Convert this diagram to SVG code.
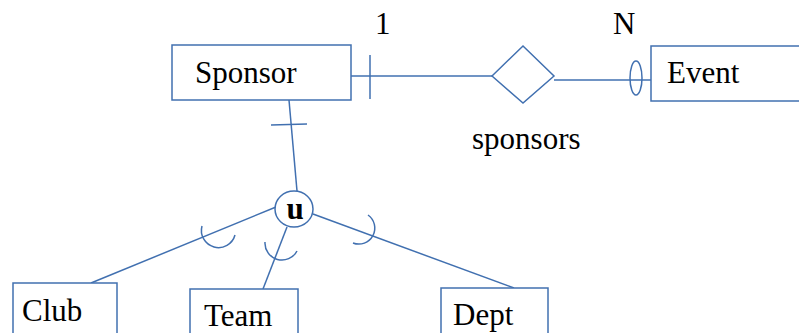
<svg xmlns="http://www.w3.org/2000/svg" width="799" height="333" viewBox="0 0 799 333">
  <style>
    .shape { fill: #ffffff; stroke: #4170b0; stroke-width: 1.5; }
    .line { fill: none; stroke: #4170b0; stroke-width: 1.5; }
    .label { font-size: 31px; fill: #000000; }
  </style>
  <rect width="799" height="333" fill="#ffffff"/>

  <!-- connectors -->
  <g id="connectors">
    <!-- Sponsor to sponsors relationship, cardinality 1 -->
    <line class="line" x1="351" y1="76" x2="492" y2="76"/>
    <line class="line" x1="370" y1="55" x2="370" y2="99"/>
    <!-- sponsors relationship to Event, cardinality N -->
    <line class="line" x1="554" y1="80" x2="651" y2="80"/>
    <ellipse class="line" cx="636" cy="78" rx="6" ry="17"/>
    <!-- Sponsor down to the union circle -->
    <line class="line" x1="289" y1="100" x2="297" y2="191"/>
    <line class="line" x1="271" y1="125" x2="307" y2="124"/>
    <!-- union circle to subclasses -->
    <line class="line" x1="276" y1="207" x2="91" y2="283"/>
    <line class="line" x1="287" y1="227" x2="263" y2="289"/>
    <line class="line" x1="313" y1="214" x2="514" y2="288"/>
    <!-- subset arcs -->
    <path class="line" d="M202,226 A17,17 0 0 0 235,235"/>
    <path class="line" d="M265,242 A17,17 0 0 0 297,251"/>
    <path class="line" d="M368,215 A16,16 0 0 1 353,243"/>
  </g>

  <g id="sponsor">
    <rect class="shape" x="172" y="45" width="179" height="55"/>
    <text class="label" font-family="Liberation Serif, serif" x="195" y="83">Sponsor</text>
  </g>

  <g id="sponsors">
    <polygon class="shape" points="492,76 523,46 554,76 523,103"/>
    <text class="label" font-family="Liberation Serif, serif" x="472" y="149">sponsors</text>
  </g>

  <g id="event">
    <rect class="shape" x="651" y="46" width="160" height="55"/>
    <text class="label" font-family="Liberation Serif, serif" x="667" y="83">Event</text>
  </g>

  <g id="card-1">
    <text class="label" font-family="Liberation Serif, serif" x="375" y="34">1</text>
  </g>
  <g id="card-n">
    <text class="label" font-family="Liberation Serif, serif" x="613" y="34">N</text>
  </g>

  <g id="union">
    <ellipse class="shape" cx="294" cy="209" rx="19" ry="18"/>
    <text class="label" font-family="Liberation Serif, serif" x="295" y="219" text-anchor="middle" font-weight="bold" font-size="30">u</text>
  </g>

  <g id="club">
    <rect class="shape" x="13" y="283" width="104" height="60"/>
    <text class="label" font-family="Liberation Serif, serif" x="22" y="321">Club</text>
  </g>

  <g id="team">
    <rect class="shape" x="190" y="289" width="108" height="60"/>
    <text class="label" font-family="Liberation Serif, serif" x="204" y="326">Team</text>
  </g>

  <g id="dept">
    <rect class="shape" x="441" y="288" width="107" height="60"/>
    <text class="label" font-family="Liberation Serif, serif" x="453" y="325">Dept</text>
  </g>
</svg>
